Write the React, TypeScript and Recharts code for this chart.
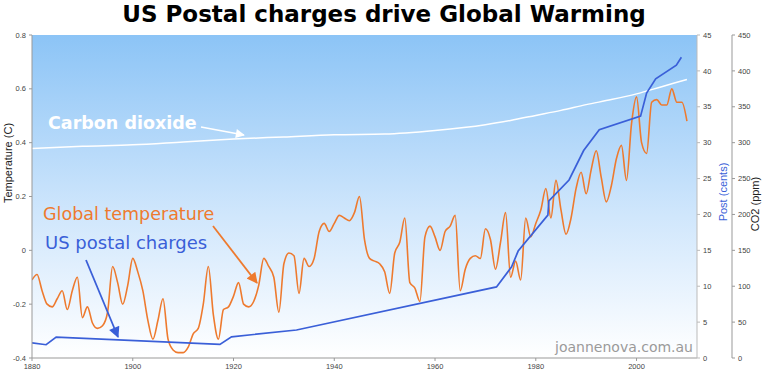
import {
  ComposedChart,
  Line,
  XAxis,
  YAxis,
  ReferenceArea,
} from 'recharts'

// global temperature anomaly (C), one value per year from 1880
const TEMP_FIRST_YEAR = 1880
const tempValues = [
  -0.11, -0.09, -0.15, -0.2, -0.21, -0.18, -0.15, -0.22, -0.15, -0.1,
  -0.25, -0.21, -0.27, -0.29, -0.28, -0.23, -0.06, -0.12, -0.2, -0.13,
  -0.03, -0.08, -0.15, -0.26, -0.33, -0.26, -0.18, -0.33, -0.37, -0.38,
  -0.38, -0.36, -0.31, -0.29, -0.2, -0.06, -0.24, -0.33, -0.22, -0.21,
  -0.17, -0.12, -0.2, -0.21, -0.19, -0.13, -0.03, -0.06, -0.1, -0.23,
  -0.05, -0.01, -0.02, -0.16, -0.03, -0.06, -0.03, 0.07, 0.1, 0.07,
  0.1, 0.13, 0.12, 0.11, 0.14, 0.2, 0.04, -0.03, -0.04, -0.05,
  -0.08, -0.16, -0.01, 0.03, 0.12, -0.12, -0.14, -0.19, 0.05, 0.09,
  0.05, 0.0, 0.07, 0.09, 0.13, -0.15, -0.07, -0.03, -0.02, -0.03,
  0.08, 0.04, -0.07, 0.03, 0.14, -0.1, -0.04, -0.11, 0.12, 0.05,
  0.1, 0.15, 0.23, 0.12, 0.26, 0.15, 0.06, 0.12, 0.23, 0.29,
  0.21, 0.3, 0.37, 0.27, 0.18, 0.24, 0.34, 0.39, 0.26, 0.47,
  0.57, 0.4, 0.36, 0.55, 0.56, 0.54, 0.54, 0.6, 0.55, 0.55,
  0.48,
]

// first class stamp price (cents)
const postYears = [
  1880, 1882.8, 1884.8, 1917.3, 1919.6, 1932.5, 1972.2, 1975.2, 1976.5,
  1982.4, 1982.6, 1986.6, 1989.5, 1992.6, 2000.8, 2002, 2003.8, 2007.9,
  2008.9,
]
const postCents = [
  2.1, 1.85, 2.9, 1.9, 2.95, 3.9, 9.9, 12.7, 14.9, 19.9, 21.9, 24.8, 28.9,
  31.8, 33.7, 36.9, 38.9, 40.8, 41.9,
]

// atmospheric CO2 (ppm)
const co2Years = [
  1880, 1890, 1900, 1910, 1920, 1930, 1940, 1950, 1960, 1970, 1975, 1980,
  1985, 1990, 1995, 2000, 2005, 2010,
]
const co2Ppm = [
  292, 295, 297, 301, 305, 308, 311, 312, 317, 325, 331, 338, 345, 353, 360,
  368, 378, 388,
]

const yearTicks = [1880, 1900, 1920, 1940, 1960, 1980, 2000]
const tempTicks = [-0.4, -0.2, 0, 0.2, 0.4, 0.6, 0.8]
const postTicks = [0, 5, 10, 15, 20, 25, 30, 35, 40, 45]
const co2Ticks = [0, 50, 100, 150, 200, 250, 300, 350, 400, 450]

const tempData = tempValues.map((t, i) => ({ year: TEMP_FIRST_YEAR + i, t }))
const postData = postYears.map((year, i) => ({ year, c: postCents[i] }))
const co2Data = co2Years.map((year, i) => ({ year, p: co2Ppm[i] }))

const ORANGE = '#ee7a2e'
const BLUE = '#3a5fd8'
const tickStyle = { fontSize: 7.5, fill: '#444', fontFamily: 'Liberation Sans' }

export default function App() {
  return (
    <div style={{ position: 'relative', width: 768, height: 372 }}>
      <style>{'body{margin:0}'}</style>
      <ComposedChart
        width={768}
        height={372}
        margin={{ top: 35, right: 0, bottom: 0, left: 0 }}
        style={{ position: 'absolute', left: 0, top: 0 }}
      >
        <defs>
          <linearGradient id="bg" x1="0" y1="0" x2="0" y2="1">
            <stop offset="0%" stopColor="#8cc4f6" />
            <stop offset="55%" stopColor="#cfe6fc" />
            <stop offset="100%" stopColor="#ffffff" />
          </linearGradient>
        </defs>
        <XAxis
          dataKey="year"
          type="number"
          domain={[1880, 2012]}
          ticks={yearTicks}
          height={14}
          tickSize={3}
          tickMargin={3}
          tick={tickStyle}
          stroke="#999"
          allowDataOverflow
        />
        <YAxis
          yAxisId="temp"
          domain={[-0.4, 0.8]}
          ticks={tempTicks}
          width={32}
          tickSize={3}
          tickMargin={3}
          tick={tickStyle}
          stroke="#999"
          tickFormatter={(v) => String(v)}
        />
        <YAxis
          yAxisId="axisA"
          orientation="right"
          domain={[0, 45]}
          ticks={postTicks}
          width={35}
          tickSize={3}
          tickMargin={3}
          tick={tickStyle}
          stroke="#bbb"
        />
        <YAxis
          yAxisId="axisB"
          orientation="right"
          domain={[0, 450]}
          ticks={co2Ticks}
          width={36}
          tickSize={3}
          tickMargin={3}
          tick={tickStyle}
          stroke="#999"
        />
        <ReferenceArea
          yAxisId="temp"
          x1={1880}
          x2={2012}
          y1={-0.4}
          y2={0.8}
          fill="url(#bg)"
          fillOpacity={1}
          stroke="none"
        />
        <Line
          yAxisId="axisB"
          data={co2Data}
          dataKey="p"
          type="monotone"
          stroke="#ffffff"
          strokeWidth={1.5}
          dot={false}
          isAnimationActive={false}
        />
        <Line
          yAxisId="temp"
          data={tempData}
          dataKey="t"
          type="monotone"
          stroke={ORANGE}
          strokeWidth={1.6}
          dot={false}
          isAnimationActive={false}
        />
        <Line
          yAxisId="axisA"
          data={postData}
          dataKey="c"
          type="linear"
          stroke={BLUE}
          strokeWidth={1.7}
          dot={false}
          isAnimationActive={false}
        />
      </ComposedChart>

      <svg
        width={768}
        height={372}
        style={{ position: 'absolute', left: 0, top: 0, pointerEvents: 'none' }}
      >
        <defs>
          <marker id="arW" viewBox="0 0 10 10" refX="9" refY="5" markerWidth="11" markerHeight="9" markerUnits="userSpaceOnUse" orient="auto">
            <path d="M0,0 L10,5 L0,10 z" fill="#ffffff" />
          </marker>
          <marker id="arO" viewBox="0 0 10 10" refX="9" refY="5" markerWidth="13" markerHeight="11" markerUnits="userSpaceOnUse" orient="auto">
            <path d="M0,0 L10,5 L0,10 z" fill={ORANGE} />
          </marker>
          <marker id="arB" viewBox="0 0 10 10" refX="9" refY="5" markerWidth="13" markerHeight="11" markerUnits="userSpaceOnUse" orient="auto">
            <path d="M0,0 L10,5 L0,10 z" fill={BLUE} />
          </marker>
        </defs>

        <text x={384} y={22} textAnchor="middle" fontFamily="DejaVu Sans" fontWeight="bold" fontSize={23} fill="#000">
          US Postal charges drive Global Warming
        </text>

        <text transform="translate(12,163) rotate(-90)" textAnchor="middle" fontFamily="Liberation Sans" fontSize={11} fill="#222">
          Temperature (C)
        </text>
        <text transform="translate(727,192) rotate(-90)" textAnchor="middle" fontFamily="Liberation Sans" fontSize={11} fill={BLUE}>
          Post (cents)
        </text>
        <text transform="translate(759,204) rotate(-90)" textAnchor="middle" fontFamily="Liberation Sans" fontSize={11} fill="#222">
          CO2 (ppm)
        </text>

        <text x={48} y={129} fontFamily="DejaVu Sans" fontWeight="bold" fontSize={17.5} fill="#ffffff">
          Carbon dioxide
        </text>
        <line x1={201} y1={127} x2={244} y2={135} stroke="#ffffff" strokeWidth={1.5} markerEnd="url(#arW)" />

        <text x={43} y={220} fontFamily="DejaVu Sans" fontSize={17.5} fill={ORANGE}>
          Global temperature
        </text>
        <line x1={213} y1={226} x2={257} y2={283} stroke={ORANGE} strokeWidth={1.8} markerEnd="url(#arO)" />

        <text x={45} y={249} fontFamily="DejaVu Sans" fontSize={18} fill={BLUE}>
          US postal charges
        </text>
        <line x1={86} y1={260} x2={118} y2={337} stroke={BLUE} strokeWidth={1.8} markerEnd="url(#arB)" />

        <text x={693} y={352} textAnchor="end" fontFamily="DejaVu Sans" fontSize={14} fill="#9a9a9a">
          joannenova.com.au
        </text>
      </svg>
    </div>
  )
}
